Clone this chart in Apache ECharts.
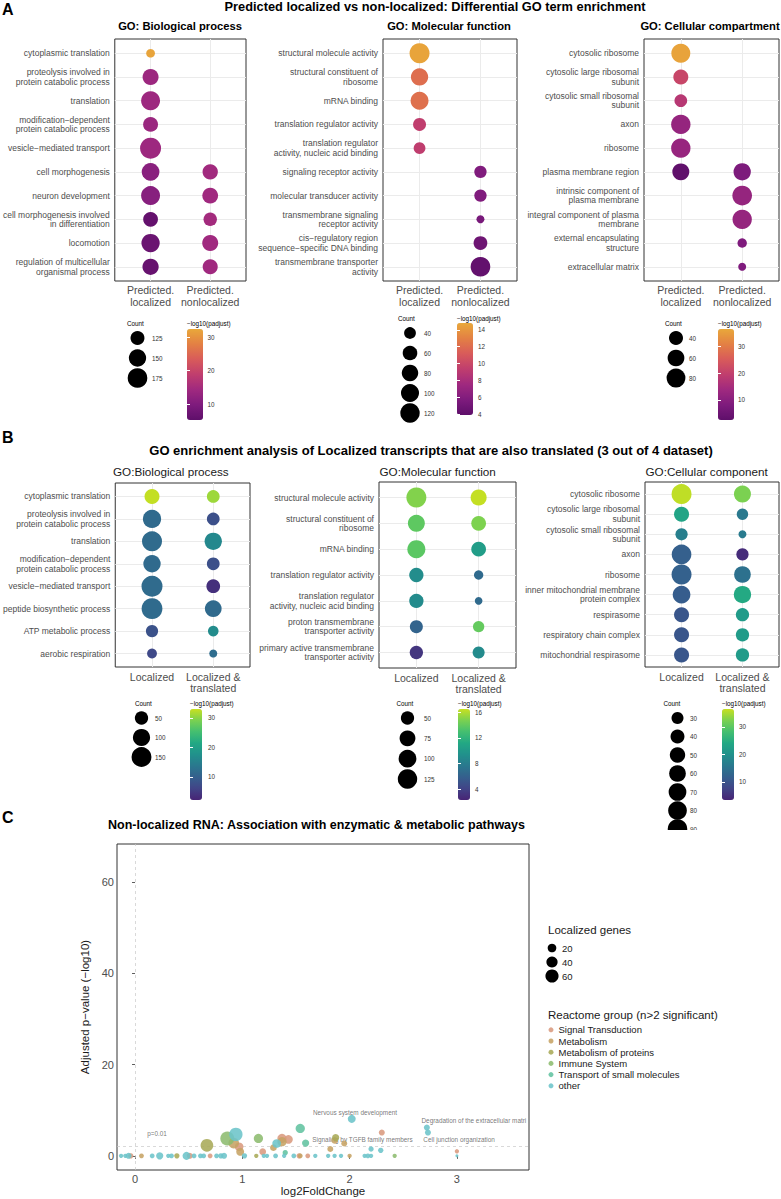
<!DOCTYPE html>
<html><head><meta charset="utf-8">
<script src="https://cdn.jsdelivr.net/npm/echarts@6/dist/echarts.min.js"></script>
<style>html,body{margin:0;padding:0;background:#fff}#c{width:781px;height:1199px}</style>
</head><body><div id="c"></div>
<script>
// ===================== DATA =====================
// ---- Panel A1: GO Biological process
const a1Terms = ['cytoplasmic translation','proteolysis involved in\nprotein catabolic process','translation','modification−dependent\nprotein catabolic process','vesicle−mediated transport','cell morphogenesis','neuron development','cell morphogenesis involved\nin differentiation','locomotion','regulation of multicellular\norganismal process'];
const aColumns = ['Predicted.\nlocalized','Predicted.\nnonlocalized'];
const a1LocCount = [110,139,167,131,192,154,167,130,160,141];
const a1LocPadj  = [32.0,13.8,14.0,13.6,13.9,11.3,11.0,6.1,7.0,6.6];
const a1NonCount = [null,null,null,null,null,134,137,122,139,132];
const a1NonPadj  = [null,null,null,null,null,14.5,14.3,14.8,14.3,14.3];
const a1CountBreaks = [125,150,175];
const a1ColorTicks = [10,20,30];

// ---- Panel A2: GO Molecular function
const a2Terms = ['structural molecule activity','structural constituent of\nribosome','mRNA binding','translation regulator activity','translation regulator\nactivity, nucleic acid binding','signaling receptor activity','molecular transducer activity','transmembrane signaling\nreceptor activity','cis−regulatory region\nsequence−specific DNA binding','transmembrane transporter\nactivity'];
const a2LocCount = [130,90,99,47,40,null,null,null,null,null];
const a2LocPadj  = [14.6,12.1,12.2,9.35,9.3,null,null,null,null,null];
const a2NonCount = [null,null,null,null,null,43,43,30,53,125];
const a2NonPadj  = [null,null,null,null,null,5.8,5.8,5.4,4.8,4.2];
const a2CountBreaks = [40,60,80,100,120];
const a2ColorTicks = [4,6,8,10,12,14];

// ---- Panel A3: GO Cellular compartment
const a3Terms = ['cytosolic ribosome','cytosolic large ribosomal\nsubunit','cytosolic small ribosomal\nsubunit','axon','ribosome','plasma membrane region','intrinsic component of\nplasma membrane','integral component of plasma\nmembrane','external encapsulating\nstructure','extracellular matrix'];
const a3LocCount = [82,46,33,86,86,62,null,null,null,null];
const a3LocPadj  = [35.7,21.1,17.8,12.0,12.3,2.8,null,null,null,null];
const a3NonCount = [null,null,null,null,null,65,90,86,23,22];
const a3NonPadj  = [null,null,null,null,null,8.0,12.0,12.0,8.3,8.3];
const a3CountBreaks = [40,60,80];
const a3ColorTicks = [10,20,30];

// ---- Panel B1: GO Biological process
const bColumns = ['Localized','Localized &\ntranslated'];
const b1Terms = ['cytoplasmic translation','proteolysis involved in\nprotein catabolic process','translation','modification−dependent\nprotein catabolic process','vesicle−mediated transport','peptide biosynthetic process','ATP metabolic process','aerobic respiration'];
const b1LocCount = [68,119,153,102,175,172,41,28];
const b1LocPadj  = [32.8,11.6,11.8,11.6,11.7,11.8,8.0,6.8];
const b1TrCount  = [45,45,102,45,54,92,31,25];
const b1TrPadj   = [30.9,7.7,16.2,7.7,3.7,11.6,16.8,12.0];
const b1CountBreaks = [50,100,150];
const b1ColorTicks = [10,20,30];

// ---- Panel B2: GO Molecular function
const b2Terms = ['structural molecule activity','structural constituent of\nribosome','mRNA binding','translation regulator activity','translation regulator\nactivity, nucleic acid binding','proton transmembrane\ntransporter activity','primary active transmembrane\ntransporter activity'];
const b2LocCount = [135,89,103,59,59,48,50];
const b2LocPadj  = [14.9,13.8,13.7,9.1,9.0,6.2,3.3];
const b2TrCount  = [77,63,63,30,28,37,41];
const b2TrPadj   = [16.4,14.8,10.3,6.6,6.6,14.0,9.0];
const b2CountBreaks = [50,75,100,125];
const b2ColorTicks = [4,8,12,16];

// ---- Panel B3: GO Cellular component
const b3Terms = ['cytosolic ribosome','cytosolic large ribosomal\nsubunit','cytosolic small ribosomal\nsubunit','axon','ribosome','inner mitochondrial membrane\nprotein complex','respirasome','respiratory chain complex','mitochondrial respirasome'];
const b3LocCount = [95,47,31,91,95,70,47,47,47];
const b3LocPadj  = [36.0,23.3,17.0,11.8,12.1,11.4,10.4,10.4,10.4];
const b3TrCount  = [63,28,22,31,60,66,36,36,36];
const b3TrPadj   = [32.4,16.0,16.4,4.5,14.7,24.3,21.7,21.7,21.7];
const b3CountBreaks = [30,40,50,60,70,80,90];
const b3ColorTicks = [10,20,30];

// ---- Panel C: Reactome pathways (x = log2FoldChange, y = -log10 padj, size = localized genes)
const cGroups = ['Signal Transduction','Metabolism','Metabolism of proteins','Immune System','Transport of small molecules','other'];
const cSignal = [[0.97,2.0,20],[1.19,0.9,10],[1.37,3.8,24],[1.43,3.6,20],[2.30,5.1,7],[3.0,1.0,3],[-0.04,0,5],[0.51,0,7],[0.70,0,4],[1.53,0,5],[1.61,0,4]];
const cMetabolism = [[0.92,2.8,35],[0.98,0.9,16],[1.29,1.8,10],[1.37,3.1,24],[1.86,3.4,10],[1.82,1.5,7],[1.95,2.7,7],[0.06,0,4],[1.54,0,4],[2.00,0,3]];
const cMetProteins = [[0.67,2.3,55],[1.87,4.0,12],[0.39,0,5],[1.13,0,3]];
const cImmune = [[0.86,3.8,70],[1.15,3.8,24],[2.42,0,3]];
const cTransport = [[1.40,0.7,5],[1.54,6.0,24],[1.59,2.8,12]];
const cOther = [[0.94,4.7,62],[1.32,2.7,20],[2.02,8.1,16],[2.20,1.5,5],[2.29,1.2,5],[2.72,6.2,7],[2.73,5.1,7],[3.0,0,2],
  [-0.13,0,3],[-0.09,0,3],[-0.06,0,7],[0.16,0,4],[0.23,0,12],[0.31,0,3],[0.34,0,4],[0.48,0,16],[0.55,0,4],[0.61,0,4],[0.64,0,4],
  [0.76,0,4],[0.80,0,5],[0.83,0,7],[1.02,0,5],[1.20,0,3],[1.23,0,3],[1.31,0,4],[1.39,0,3],[1.48,0,4],[1.68,0,3],[1.80,0,3],
  [1.86,0,3],[1.92,0,3],[2.14,0,3],[2.17,0,4],[2.20,0,3]];
const cSizeBreaks = [20,40,60];
const cXTicks = [0,1,2,3];
const cYTicks = [0,20,40,60];
const cPathwayLabels = ['Nervous system development','Signaling by TGFB family members','Degradation of the extracellular matrix','Cell junction organization'];
const cPathwayLabelX = [2.05,2.12,2.67,3.02];
const cPathwayLabelY = [9.6,3.5,7.7,3.5];
const cThreshold = 2;           // -log10(0.01)
const cThresholdLabel = 'p=0.01';

// ===================== STYLE =====================
const FONT = "'Liberation Sans', Arial, Helvetica, sans-serif";
const paletteA = ['#5E0F6A','#7E1B7D','#A0297F','#C03E6E','#D85B5A','#E38044','#E9A83A'];
const paletteB = ['#482475','#414487','#355F8D','#2A788E','#21918C','#22A884','#44BF70','#7AD151','#C8E020'];
const cColors = ['#D99A7E','#C6A364','#A8AA58','#8DBC70','#62C3A1','#6CC4CA'];
const GRIDCOL = '#EBEBEB';

function sizeScale(s){ const [vmin,vmax,dmin,dmax]=s; return v => dmin + (dmax-dmin)*Math.sqrt(Math.max(0,v-vmin)/(vmax-vmin)); }

const option = {animation:false, textStyle:{fontFamily:FONT}, title:[], grid:[], xAxis:[], yAxis:[], series:[], visualMap:[], graphic:[]};

function addText(text,x,y,size,weight,align,color){
  option.title.push({text, left:x, top:y, textAlign:align||'left', textVerticalAlign:'middle', padding:0, itemGap:0,
    textStyle:{fontSize:size, fontWeight:weight||'normal', color:color||'#000', fontFamily:FONT}});
}

function buildBubble(p){
  const lg = p.lg;
  const gi = option.grid.length;
  option.grid.push({left:p.grid.left, top:p.grid.top, width:p.grid.width, height:p.grid.height, show:true, borderColor:'#333333', borderWidth:1, backgroundColor:'rgba(0,0,0,0)'});
  const xi = option.xAxis.length, yi = option.yAxis.length;
  const rows = p.terms.map((_,i)=>i);
  option.xAxis.push({gridIndex:gi, type:'value', min:-0.6, max:1.6,
    axisLine:{show:false},
    axisTick:{show:true, length:3, customValues:[0,1], lineStyle:{color:'#333', width:0.8}},
    axisLabel:{customValues:[0,1], formatter:v=>p.cols[Math.round(v)], fontSize:10.5, color:'#4D4D4D', lineHeight:11.5, margin:p.xMargin},
    splitLine:{show:false}});
  option.yAxis.push({gridIndex:gi, type:'value', inverse:true, min:-0.6, max:p.terms.length-0.4,
    axisLine:{show:false},
    axisTick:{show:true, length:3, customValues:rows, lineStyle:{color:'#333', width:0.8}},
    axisLabel:{customValues:rows, formatter:v=>p.terms[Math.round(v)], fontSize:8.5, color:'#4D4D4D', lineHeight:9.5, margin:5},
    splitLine:{show:false}});
  // background grid lines at category positions (beneath the bubbles)
  option.series.push({type:'scatter', xAxisIndex:xi, yAxisIndex:yi, data:[[0,0]], symbolSize:0, silent:true, z:1,
    markLine:{z:1, silent:true, symbol:'none', label:{show:false}, lineStyle:{type:'solid', color:GRIDCOL, width:1},
      data:[{xAxis:0},{xAxis:1}].concat(rows.map(r=>({yAxis:r})))}});
  const data = [];
  p.terms.forEach((t,i)=>{
    if (p.c1[i]!=null) data.push([0,i,p.c1[i],p.p1[i]]);
    if (p.c2[i]!=null) data.push([1,i,p.c2[i],p.p2[i]]);
  });
  const sz = sizeScale(p.size);
  const si = option.series.length;
  option.series.push({type:'scatter', xAxisIndex:xi, yAxisIndex:yi, data, symbolSize:v=>sz(v[2]), itemStyle:{opacity:1}, silent:true, z:6, clip:false});
  option.visualMap.push({type:'continuous', seriesIndex:si, dimension:3, min:p.crange[0], max:p.crange[1], inRange:{color:p.palette},
    calculable:false, orient:'vertical', left:lg.barX, top:lg.barTop, itemWidth:lg.barW, itemHeight:lg.barBottom-lg.barTop, padding:0, hoverLink:false});
  // colorbar ticks & labels
  const cg = option.grid.length;
  option.grid.push({left:lg.barX, top:lg.barTop, width:lg.barW, height:lg.barBottom-lg.barTop, show:false});
  option.xAxis.push({gridIndex:cg, type:'value', min:0, max:1, show:false});
  option.yAxis.push({gridIndex:cg, type:'value', min:p.crange[0], max:p.crange[1], position:'right', z:10,
    axisLine:{show:false}, splitLine:{show:false},
    axisTick:{show:true, inside:true, length:3, customValues:p.ticks, lineStyle:{color:'#fff', width:1}},
    axisLabel:{customValues:p.ticks, fontSize:6.3, color:'#333', margin:lg.labelGap}});
  option.yAxis.push({gridIndex:cg, type:'value', min:p.crange[0], max:p.crange[1], position:'left', z:10,
    axisLine:{show:false}, splitLine:{show:false},
    axisTick:{show:true, inside:true, length:3, customValues:p.ticks, lineStyle:{color:'#fff', width:1}},
    axisLabel:{show:false}});
  // size legend
  const n = p.breaks.length, idx = p.breaks.map((_,i)=>i);
  const lgi = option.grid.length;
  const gl = lg.dotX-12, gw = lg.labelX-2-gl;
  option.grid.push({left:gl, top:lg.dotY0, width:gw, height:lg.dotY1-lg.dotY0, show:false});
  const lxi = option.xAxis.length, lyi = option.yAxis.length;
  option.xAxis.push({gridIndex:lgi, type:'value', min:-12, max:gw-12, show:false});
  option.yAxis.push({gridIndex:lgi, type:'value', inverse:true, min:0, max:n-1, position:'right',
    axisLine:{show:false}, axisTick:{show:false}, splitLine:{show:false},
    axisLabel:{customValues:idx, formatter:v=>String(p.breaks[Math.round(v)]), fontSize:6.3, color:'#333', margin:2}});
  option.series.push({type:'scatter', xAxisIndex:lxi, yAxisIndex:lyi, data:p.breaks.map((b,i)=>[0,i,b]), symbolSize:v=>sz(v[2]), itemStyle:{color:'#000', opacity:1}, silent:true, clip:false});
  addText('Count', lg.countX, lg.countY, 6.3);
  addText('−log10(padjust)', lg.barX, lg.countY, 6.3);
}

const panels = [
  {terms:a1Terms, cols:aColumns, c1:a1LocCount, p1:a1LocPadj, c2:a1NonCount, p2:a1NonPadj, breaks:a1CountBreaks, ticks:a1ColorTicks, palette:paletteA,
   grid:{left:111, top:39, width:135, height:242}, xMargin:3.5, size:[110,192,8.7,21], crange:[5.3,32.4],
   lg:{countX:127, countY:323, dotX:137.5, dotY0:338, dotY1:378, labelX:152, barX:187, barW:16, barTop:329, barBottom:420, labelGap:4.5}},
  {terms:a2Terms, cols:aColumns, c1:a2LocCount, p1:a2LocPadj, c2:a2NonCount, p2:a2NonPadj, breaks:a2CountBreaks, ticks:a2ColorTicks, palette:paletteA,
   grid:{left:383, top:39, width:134, height:242}, xMargin:3.5, size:[30,130,8,20], crange:[3.9,14.8],
   lg:{countX:398, countY:318, dotX:410, dotY0:333, dotY1:413, labelX:424, barX:457, barW:16, barTop:323, barBottom:415, labelGap:5}},
  {terms:a3Terms, cols:aColumns, c1:a3LocCount, p1:a3LocPadj, c2:a3NonCount, p2:a3NonPadj, breaks:a3CountBreaks, ticks:a3ColorTicks, palette:paletteA,
   grid:{left:644, top:39, width:135, height:242}, xMargin:3.5, size:[22,90,8,19.7], crange:[2.5,36.4],
   lg:{countX:665, countY:323, dotX:676, dotY0:338, dotY1:378, labelX:689, barX:718, barW:16, barTop:329, barBottom:420, labelGap:4}},
  {terms:b1Terms, cols:bColumns, c1:b1LocCount, p1:b1LocPadj, c2:b1TrCount, p2:b1TrPadj, breaks:b1CountBreaks, ticks:b1ColorTicks, palette:paletteB,
   grid:{left:114, top:483, width:136, height:184}, xMargin:4, size:[25,175,8,21], crange:[2.2,33.05],
   lg:{countX:135, countY:703, dotX:141.5, dotY0:718, dotY1:757, labelX:155, barX:190, barW:12, barTop:709, barBottom:800, labelGap:6}},
  {terms:b2Terms, cols:bColumns, c1:b2LocCount, p1:b2LocPadj, c2:b2TrCount, p2:b2TrPadj, breaks:b2CountBreaks, ticks:b2ColorTicks, palette:paletteB,
   grid:{left:379, top:482, width:137, height:186}, xMargin:4, size:[28,135,7.7,20], crange:[2.3,16.5],
   lg:{countX:396.5, countY:703, dotX:407.5, dotY0:718, dotY1:779, labelX:424, barX:458, barW:12, barTop:709, barBottom:800, labelGap:5}},
  {terms:b3Terms, cols:bColumns, c1:b3LocCount, p1:b3LocPadj, c2:b3TrCount, p2:b3TrPadj, breaks:b3CountBreaks, ticks:b3ColorTicks, palette:paletteB,
   grid:{left:645, top:482, width:134, height:185}, xMargin:4, size:[22,95,8,20], crange:[3.45,36.5],
   lg:{countX:663.5, countY:703, dotX:677.5, dotY0:718, dotY1:829, labelX:690, barX:722, barW:12, barTop:709, barBottom:800, labelGap:5}}
];
panels.forEach(buildBubble);

// ---- titles
addText('A', 2, 9, 16, 'bold');
addText('Predicted localized vs non-localized: Differential GO term enrichment', 435, 6, 12.8, 'bold', 'center');
addText('GO: Biological process', 180, 25.5, 11.2, 'bold', 'center');
addText('GO: Molecular function', 449, 25.5, 11.2, 'bold', 'center');
addText('GO: Cellular compartment', 710, 25.5, 11.2, 'bold', 'center');
addText('B', 2, 437, 16, 'bold');
addText('GO enrichment analysis of Localized transcripts that are also translated (3 out of 4 dataset)', 431, 450, 13, 'bold', 'center');
addText('GO:Biological process', 113, 471, 11.7, 'normal', 'left', '#1a1a1a');
addText('GO:Molecular function', 379.5, 471, 11.7, 'normal', 'left', '#1a1a1a');
addText('GO:Cellular component', 645.5, 471, 11.7, 'normal', 'left', '#1a1a1a');

// cover overflow of the B3 legend (clipped by panel C in the original)
option.graphic.push({type:'rect', shape:{x:650, y:830, width:120, height:16}, style:{fill:'#fff'}, z:100});

addText('C', 2, 817, 16, 'bold');
addText('Non-localized RNA: Association with enzymatic & metabolic pathways', 108, 825, 12.5, 'bold', 'left');

// ---- Panel C
const szC = sizeScale([2,70,3,14]);
const cgi = option.grid.length;
option.grid.push({left:117, top:844, width:412, height:326, show:true, borderColor:'#333333', borderWidth:1, backgroundColor:'rgba(0,0,0,0)'});
const cxi = option.xAxis.length, cyi = option.yAxis.length;
option.xAxis.push({gridIndex:cgi, type:'value', min:-0.168, max:3.672, axisLine:{show:false}, splitLine:{show:false},
  axisTick:{show:true, length:3, customValues:cXTicks, lineStyle:{color:'#333', width:0.8}},
  axisLabel:{customValues:cXTicks, fontSize:11, color:'#4D4D4D', margin:3},
  name:'log2FoldChange', nameLocation:'middle', nameGap:14, nameTextStyle:{fontSize:11.5, color:'#1a1a1a', verticalAlign:'top'}});
option.yAxis.push({gridIndex:cgi, type:'value', min:-3.1, max:68.3, axisLine:{show:false}, splitLine:{show:false},
  axisTick:{show:true, length:3, customValues:cYTicks, lineStyle:{color:'#333', width:0.8}},
  axisLabel:{customValues:cYTicks, fontSize:11, color:'#4D4D4D', margin:3},
  name:'Adjusted p−value (−log10)', nameLocation:'middle', nameGap:19, nameRotate:90, nameTextStyle:{fontSize:11.5, color:'#1a1a1a'}});
// threshold lines + annotations
const annData = cPathwayLabels.map((t,i)=>({value:[cPathwayLabelX[i], cPathwayLabelY[i]], name:t,
  label: i===2 ? {align:'left', width:108, overflow:'truncate', ellipsis:''} : {align:'center'}}));
annData.push({value:[0.205,5.0], name:cThresholdLabel, label:{align:'center'}});
option.series.push({type:'scatter', xAxisIndex:cxi, yAxisIndex:cyi, symbolSize:0, data:annData, silent:true, z:1, clip:false,
  label:{show:true, position:'inside', formatter:p=>p.name, fontSize:6.4, color:'#555', fontFamily:FONT},
  markLine:{z:1, silent:true, symbol:'none', label:{show:false}, lineStyle:{type:[3,3], color:'#C8C8C8', width:0.7},
    data:[{xAxis:0},{yAxis:cThreshold}]}});
[cSignal,cMetabolism,cMetProteins,cImmune,cTransport,cOther].forEach((d,i)=>{
  option.series.push({type:'scatter', name:cGroups[i], xAxisIndex:cxi, yAxisIndex:cyi, data:d, symbolSize:v=>szC(v[2]),
    itemStyle:{color:cColors[i], opacity:0.88}, silent:true, z:3});
});
option.legend = [{data:cGroups, orient:'vertical', left:548.5, top:1024.8, icon:'circle', itemWidth:5, itemHeight:5, itemGap:1.2,
  padding:0, selectedMode:false, textStyle:{fontSize:9.5, color:'#1a1a1a', fontFamily:FONT}}];
addText('Reactome group (n>2 significant)', 548, 1015, 11.5, 'normal', 'left', '#1a1a1a');
addText('Localized genes', 548, 930, 11.5, 'normal', 'left', '#1a1a1a');
// size legend panel C
{
  const gi = option.grid.length;
  const gl = 552-12, gw = 562-2-gl;
  option.grid.push({left:gl, top:948, width:gw, height:28, show:false});
  const xi = option.xAxis.length, yi = option.yAxis.length;
  option.xAxis.push({gridIndex:gi, type:'value', min:-12, max:gw-12, show:false});
  option.yAxis.push({gridIndex:gi, type:'value', inverse:true, min:0, max:cSizeBreaks.length-1, position:'right',
    axisLine:{show:false}, axisTick:{show:false}, splitLine:{show:false},
    axisLabel:{customValues:cSizeBreaks.map((_,i)=>i), formatter:v=>String(cSizeBreaks[Math.round(v)]), fontSize:9.5, color:'#1a1a1a', margin:2}});
  option.series.push({type:'scatter', xAxisIndex:xi, yAxisIndex:yi, data:cSizeBreaks.map((b,i)=>[0,i,b]), symbolSize:v=>szC(v[2]),
    itemStyle:{color:'#000', opacity:1}, silent:true, clip:false});
}

const chart = echarts.init(document.getElementById('c'), null, {renderer:'svg', width:781, height:1199});
chart.setOption(option);
</script>
</body></html>
